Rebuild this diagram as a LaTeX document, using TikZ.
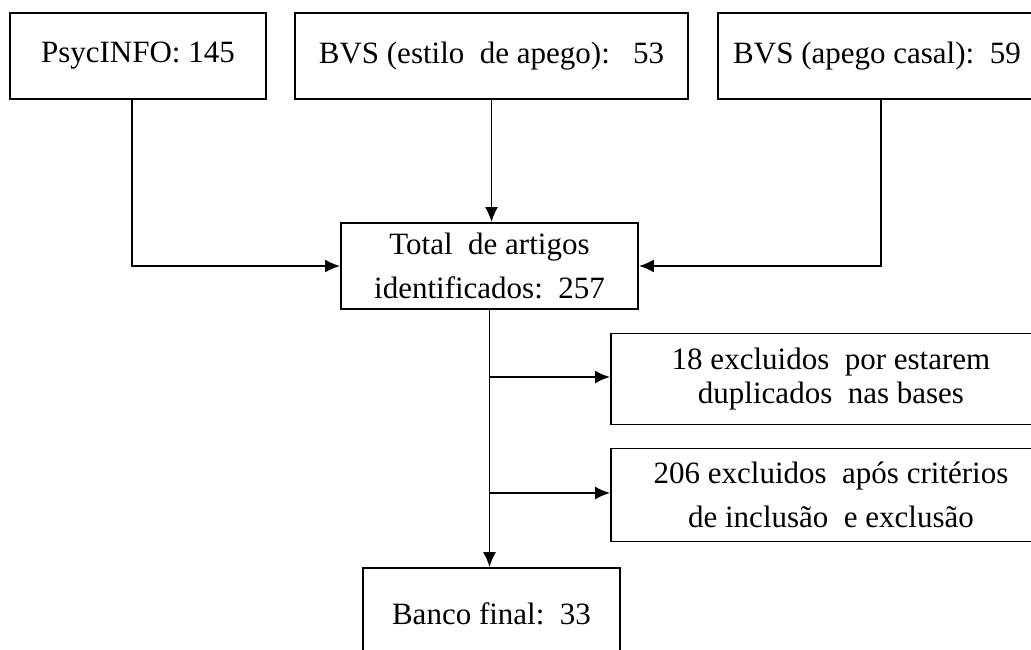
\documentclass[tikz,border=0pt]{standalone}
\usepackage{fontspec}
\setmainfont{Liberation Serif}
\usetikzlibrary{arrows.meta}
\begin{document}
\begin{tikzpicture}[x=1pt, y=-1pt,
        box/.style={draw, line width=1.8pt, inner sep=0pt, align=center},
        arr/.style={line width=1.8pt, -{Latex[length=15pt,width=13pt]}}]
    \useasboundingbox (0,0) rectangle (1031,650);
    \begin{scope}
        \clip (0,0) rectangle (1031,650);
        \node (psyc) at (138, 56) [box, minimum width=256pt, minimum height=86pt, font=\fontsize{31}{40}\selectfont] {PsycINFO: 145};
        \node (estilo) at (491.5, 56) [box, minimum width=393pt, minimum height=86pt, font=\fontsize{31}{40}\selectfont] {BVS (estilo\ \ de apego):\ \ \ 53};
        \node (casal) at (877, 56) [box, minimum width=318pt, minimum height=86pt, font=\fontsize{31}{40}\selectfont] {BVS (apego casal):\ \ 59};
        \node (total) at (489.5, 266) [box, minimum width=297pt, minimum height=86pt, font=\fontsize{31}{44}\selectfont] {Total\ \ de artigos\\identificados:\ \ 257};
        \node (dup) at (831, 379) [box, minimum width=440pt, minimum height=91pt, font=\fontsize{31}{34}\selectfont] {18 excluidos\ \ por estarem\\duplicados\ \ nas bases};
        \node (incl) at (831, 495) [box, minimum width=440pt, minimum height=93pt, font=\fontsize{31}{44}\selectfont] {206 excluidos\ \ após critérios\\de inclusão\ \ e exclusão};
        \node (banco) at (491.5, 614) [box, minimum width=257pt, minimum height=92pt, font=\fontsize{31}{40}\selectfont] {Banco final:\ \ 33};
        \draw[arr] ([xshift=-6pt]psyc.south) |- (total.west);
        \draw[arr] (estilo.south) -- (estilo.south |- total.north);
        \draw[arr] ([xshift=4pt]casal.south) |- (total.east);
        \draw[arr] (total.south) -- (total.south |- banco.north);
        \draw[arr] ([yshift=2pt]total.south |- dup.west) -- ([yshift=2pt]dup.west);
        \draw[arr] ([yshift=2pt]total.south |- incl.west) -- ([yshift=2pt]incl.west);
    \end{scope}
\end{tikzpicture}
\end{document}
